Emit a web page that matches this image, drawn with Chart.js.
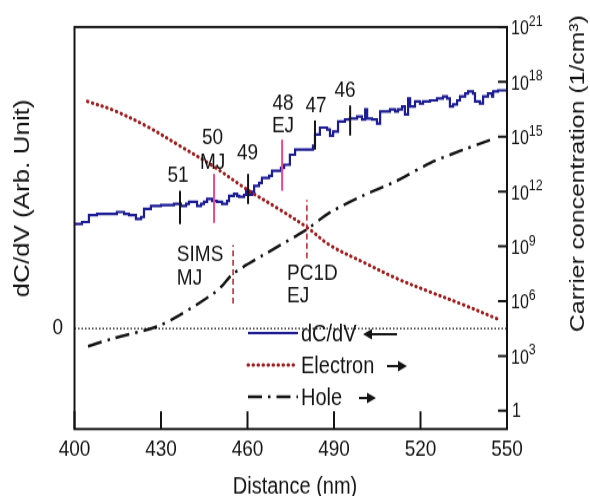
<!DOCTYPE html>
<html>
<head>
<meta charset="utf-8">
<script src="https://cdn.jsdelivr.net/npm/chart.js@4.4.1/dist/chart.umd.min.js"></script>
<style>
  html, body { margin: 0; padding: 0; background: #fff; }
  body { width: 590px; height: 496px; }
  /* the source picture is stretched vertically, so the whole canvas is too */
  #wrap { width: 590px; height: 420px; transform: scaleY(1.18095); transform-origin: 0 0; }
</style>
</head>
<body>
<div id="wrap"><canvas id="cv"></canvas></div>
<script>
// ---- data ----
const xTicks = [400, 430, 460, 490, 520, 550];
const rightExp = [0, 3, 6, 9, 12, 15, 18, 21];

// dC/dV (arb. unit, left axis)
const dcdvX = [400.0, 402.6, 405.0, 407.8, 411.3, 414.7, 417.2, 418.9, 421.3, 423.1, 424.1, 426.5,
  430.0, 434.5, 436.9, 438.7, 439.7, 442.5, 443.9, 444.9, 446.0, 447.7, 449.4, 451.2, 452.9, 453.6,
  455.3, 456.4, 457.1, 458.8, 459.5, 460.5, 461.6, 462.3, 464.0, 465.0, 467.5, 468.5, 471.6, 472.7,
  474.7, 476.5, 479.9, 482.7, 483.4, 485.1, 486.2, 487.6, 488.6, 489.7, 491.4, 493.8, 495.5, 497.3,
  498.0, 499.7, 500.8, 501.5, 503.2, 504.9, 506.0, 509.4, 511.2, 512.2, 513.6, 514.6, 515.7, 516.4,
  518.1, 519.8, 520.9, 523.3, 525.7, 527.8, 529.2, 530.2, 531.3, 532.7, 533.7, 535.5, 536.5, 538.2,
  538.9, 540.6, 541.7, 543.4, 544.8, 545.2, 546.9, 550.0];
const dcdvY = [1.04, 1.06, 1.13, 1.14, 1.14, 1.16, 1.14, 1.13, 1.09, 1.11, 1.19, 1.22,
  1.23, 1.24, 1.22, 1.24, 1.26, 1.22, 1.24, 1.26, 1.29, 1.27, 1.26, 1.24, 1.27, 1.32,
  1.34, 1.32, 1.31, 1.33, 1.37, 1.33, 1.36, 1.42, 1.45, 1.50, 1.52, 1.57, 1.60, 1.63,
  1.73, 1.78, 1.78, 1.82, 1.93, 2.00, 2.00, 1.98, 1.92, 1.96, 2.06, 2.08, 2.09, 2.09,
  2.11, 2.08, 2.18, 2.09, 2.08, 2.04, 2.16, 2.18, 2.16, 2.18, 2.21, 2.13, 2.29, 2.21,
  2.26, 2.24, 2.26, 2.27, 2.29, 2.31, 2.29, 2.21, 2.23, 2.27, 2.31, 2.34, 2.36, 2.34,
  2.26, 2.24, 2.31, 2.34, 2.31, 2.36, 2.37, 2.37];

// carrier concentration (1/cm3, right axis)
const electronX = [404.5, 413.5, 425.1, 436.6, 448.0, 459.8, 471.3, 480.6, 488.6, 500.0, 511.9, 523.3, 534.7, 546.5];
const electronY = [8.5e16, 2.8e16, 3.7e15, 3.1e14, 2.5e13, 1.3e12, 1.0e11, 1.1e10, 1.15e9, 1.4e8, 1.7e7, 3.2e6, 6.5e5, 1.1e5];
const holeX = [404.7, 413.4, 428.6, 436.6, 448.0, 451.5, 454.9, 465.4, 477.2, 480.6, 488.6, 500.0, 511.9, 523.3, 534.7, 544.1];
const holeY = [3.4e3, 9.1e3, 4.1e4, 1.8e5, 2.5e6, 7.8e6, 3.1e7, 3.3e8, 4.0e9, 8.5e9, 7.1e10, 5.9e11, 3.9e12, 3.6e13, 1.9e14, 6.5e14];

// junction markers on the dC/dV curve
const junctionNames = ['51', '50', '49', '48', '47', '46'];
const junctionX = [436.6, 448.4, 460.2, 472.0, 483.4, 495.6];
const junctionLow = [1.04, 1.05, 1.24, 1.37, 1.78, 1.92];
const junctionHigh = [1.37, 1.54, 1.54, 1.88, 2.07, 2.22];
const junctionIsPink = [false, true, false, true, false, false];
const junctionLabelX = [435.9, 447.9, 460.0, 472.3, 483.8, 493.8];
const junctionLabelY = [1.52, 1.90, 1.75, 2.24, 2.21, 2.37];
const junctionSub = ['', 'MJ', '', 'EJ', '', ''];
const junctionSubY = [0, 1.65, 0, 2.01, 0, 0];

// SIMS / PC1D reference junctions
const refX = [455.0, 480.6];
const refLow = [0.25, 0.70];
const refHigh = [0.83, 1.28];
const refText = [['SIMS', 'MJ'], ['PC1D', 'EJ']];
const refTextX = [435.5, 473.7];
const refTextY = [[0.73, 0.50], [0.55, 0.32]];

const FONT = "'Liberation Sans', Arial, sans-serif";
const INK = '#141414';
const BLUE = '#1c1c94';
const RED = '#a31c1c';

function pts(xs, ys) { return xs.map((v, i) => ({ x: v, y: ys[i] })); }
function segs(idx) {
  const out = [];
  idx.forEach(i => {
    out.push({ x: junctionX[i], y: junctionLow[i] }, { x: junctionX[i], y: junctionHigh[i] }, { x: junctionX[i], y: null });
  });
  return out;
}
const blackIdx = junctionX.map((v, i) => i).filter(i => !junctionIsPink[i]);
const pinkIdx = junctionX.map((v, i) => i).filter(i => junctionIsPink[i]);
const refData = [];
refX.forEach((v, i) => refData.push({ x: v, y: refLow[i] }, { x: v, y: refHigh[i] }, { x: v, y: null }));

function arrow(ctx, x1, x2, y) {
  // from x1 to x2, head at x2
  const d = x2 > x1 ? 1 : -1;
  ctx.beginPath();
  ctx.moveTo(x1, y); ctx.lineTo(x2 - d * 6, y);
  ctx.stroke();
  ctx.beginPath();
  ctx.moveTo(x2, y); ctx.lineTo(x2 - d * 9, y - 4.5); ctx.lineTo(x2 - d * 9, y + 4.5);
  ctx.closePath(); ctx.fill();
}

const overlay = {
  id: 'overlay',
  afterDraw(chart) {
    const { ctx, chartArea: a, scales } = chart;
    const sx = scales.x, sy = scales.y, sr = scales.yR;
    ctx.save();
    ctx.strokeStyle = INK; ctx.fillStyle = INK;

    // frame and inner ticks
    ctx.lineWidth = 2;
    ctx.strokeRect(a.left, a.top, a.right - a.left, a.bottom - a.top);
    ctx.beginPath();
    xTicks.forEach(v => { const p = sx.getPixelForValue(v); ctx.moveTo(p, a.bottom); ctx.lineTo(p, a.bottom - 15); });
    rightExp.forEach(e => { const p = sr.getPixelForValue(Math.pow(10, e)); ctx.moveTo(a.right, p); ctx.lineTo(a.right - 9, p); });
    ctx.stroke();

    // right axis labels 10^n
    ctx.textBaseline = 'middle'; ctx.textAlign = 'left';
    rightExp.forEach(e => {
      const p = sr.getPixelForValue(Math.pow(10, e));
      ctx.font = '16px ' + FONT;
      if (e === 0) { ctx.fillText('1', a.right + 5, p + 1); return; }
      ctx.fillText('10', a.right + 4, p + 2);
      const w = ctx.measureText('10').width;
      ctx.font = '12.5px ' + FONT;
      ctx.fillText(String(e), a.right + 4 + w, p - 4.5);
    });

    // axis titles
    ctx.textAlign = 'center';
    ctx.font = '20px ' + FONT;
    ctx.fillText('Distance (nm)', 295, 412);
    ctx.save();
    ctx.translate(23, 168); ctx.rotate(-Math.PI / 2);
    ctx.font = '22px ' + FONT;
    ctx.fillText('dC/dV (Arb. Unit)', 0, 0);
    ctx.restore();
    ctx.save();
    ctx.translate(578, 147); ctx.rotate(-Math.PI / 2);
    ctx.font = '21px ' + FONT;
    ctx.fillText('Carrier concentration (1/cm\u00b3)', 0, 0);
    ctx.restore();

    // junction labels
    ctx.font = '19px ' + FONT;
    junctionNames.forEach((n, i) => {
      ctx.fillText(n, sx.getPixelForValue(junctionLabelX[i]), sy.getPixelForValue(junctionLabelY[i]));
      if (junctionSub[i]) ctx.fillText(junctionSub[i], sx.getPixelForValue(junctionLabelX[i]), sy.getPixelForValue(junctionSubY[i]));
    });
    ctx.textAlign = 'left';
    refText.forEach((lines, i) => {
      lines.forEach((t, j) => ctx.fillText(t, sx.getPixelForValue(refTextX[i]), sy.getPixelForValue(refTextY[i][j])));
    });

    // legend
    const lx1 = 248, lx2 = 298, tx = 301;
    const rows = [
      { label: 'dC/dV', y: 282, color: BLUE, dash: [], w: 2.2, cap: 'butt', arrow: [397, 363] },
      { label: 'Electron', y: 309, color: RED, dash: [0.5, 4.5], w: 3, cap: 'round', arrow: [387, 407] },
      { label: 'Hole', y: 336, color: INK, dash: [14, 6, 2.5, 6], w: 2.5, cap: 'butt', arrow: [359, 376] }
    ];
    ctx.font = '20px ' + FONT;
    rows.forEach(r => {
      ctx.save();
      ctx.strokeStyle = r.color; ctx.lineWidth = r.w; ctx.setLineDash(r.dash); ctx.lineCap = r.cap;
      ctx.beginPath(); ctx.moveTo(lx1, r.y); ctx.lineTo(lx2, r.y); ctx.stroke();
      ctx.restore();
      ctx.fillStyle = INK;
      ctx.fillText(r.label, tx, r.y + 1);
      ctx.lineWidth = 2;
      arrow(ctx, r.arrow[0], r.arrow[1], r.y + 1);
    });
    ctx.restore();
  }
};

new Chart(document.getElementById('cv').getContext('2d'), {
  type: 'line',
  data: {
    datasets: [
      { label: 'black markers', data: segs(blackIdx), yAxisID: 'y', borderColor: INK, borderWidth: 2, pointRadius: 0, spanGaps: false },
      { label: 'pink markers', data: segs(pinkIdx), yAxisID: 'y', borderColor: '#f2468a', borderWidth: 2, pointRadius: 0, spanGaps: false },
      { label: 'dC/dV', data: pts(dcdvX, dcdvY), yAxisID: 'y', borderColor: BLUE, borderWidth: 2.2, pointRadius: 0, stepped: true },
      { label: 'ref junctions', data: refData, yAxisID: 'y', borderColor: '#b5202a', borderWidth: 1.5, borderDash: [5, 3], pointRadius: 0, spanGaps: false },
      { label: 'Electron', data: pts(electronX, electronY), yAxisID: 'yR', borderColor: RED, borderWidth: 3, borderDash: [0.5, 4.5], borderCapStyle: 'round', pointRadius: 0, tension: 0.35 },
      { label: 'Hole', data: pts(holeX, holeY), yAxisID: 'yR', borderColor: INK, borderWidth: 2.5, borderDash: [14, 6, 2.5, 6], pointRadius: 0, tension: 0.3 },
      { label: 'zero', data: [{ x: 400, y: 0 }, { x: 550, y: 0 }], yAxisID: 'y', borderColor: '#333', borderWidth: 1.5, borderDash: [1.5, 2], pointRadius: 0 }
    ]
  },
  options: {
    responsive: true,
    maintainAspectRatio: false,
    animation: false,
    layout: { padding: { top: 19.5 } },
    plugins: { legend: { display: false }, tooltip: { enabled: false } },
    scales: {
      x: {
        type: 'linear', min: 400, max: 550,
        grid: { display: false, drawTicks: false },
        border: { display: false },
        ticks: { stepSize: 30, padding: 6, color: INK, font: { family: FONT, size: 19 } },
        afterFit: s => { s.height = 56.7; }
      },
      y: {
        type: 'linear', position: 'left', min: -1, max: 3,
        grid: { display: false, drawTicks: false },
        border: { display: false },
        afterBuildTicks: s => { s.ticks = [{ value: 0 }]; },
        ticks: { padding: 11.5, color: INK, font: { family: FONT, size: 19 }, callback: v => (v === 0 ? '0' : '') },
        afterFit: s => { s.width = 74.5; }
      },
      yR: {
        type: 'logarithmic', position: 'right', min: 0.1, max: 1e21,
        grid: { display: false, drawTicks: false },
        border: { display: false },
        afterBuildTicks: s => { s.ticks = rightExp.map(e => ({ value: Math.pow(10, e) })); },
        ticks: { display: false },
        afterFit: s => { s.width = 83; }
      }
    }
  },
  plugins: [overlay]
});
</script>
</body>
</html>
